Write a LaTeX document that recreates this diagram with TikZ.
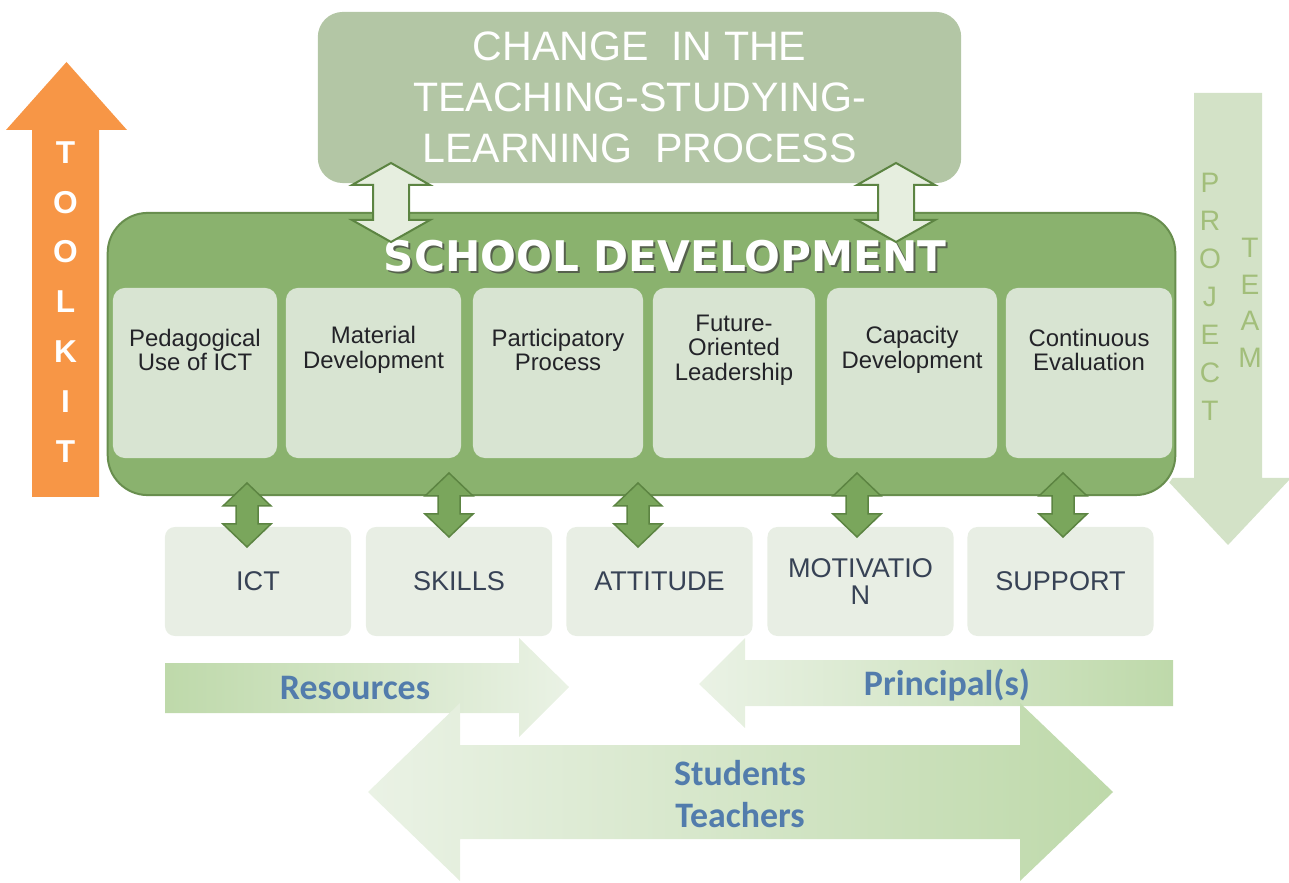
\documentclass[tikz,border=0pt]{standalone}
\usepackage{fontspec}
\setmainfont{Liberation Sans}
\newfontfamily\dejavu{DejaVu Sans}
\newfontfamily\carlito{Carlito}
\usetikzlibrary{arrows,shapes,calc,positioning}

\definecolor{toolorange}{RGB}{247,150,70}
\definecolor{projgreen}{RGB}{211,226,199}
\definecolor{projtext}{RGB}{162,190,122}
\definecolor{changefill}{RGB}{179,198,165}
\definecolor{schoolfill}{RGB}{138,178,110}
\definecolor{schoolline}{RGB}{104,142,78}
\definecolor{innerfill}{RGB}{216,228,210}
\definecolor{lowfill}{RGB}{232,238,228}
\definecolor{arrowdark}{RGB}{122,166,92}
\definecolor{arrowline}{RGB}{92,132,66}
\definecolor{arrowlight}{RGB}{230,238,223}
\definecolor{gradgreen}{RGB}{190,217,170}
\definecolor{gradlight}{RGB}{234,242,229}
\definecolor{labelblue}{RGB}{82,124,172}
\definecolor{textdark}{RGB}{35,35,40}
\definecolor{lowtext}{RGB}{55,66,85}

\tikzset{
  changebox/.style={fill=changefill, rounded corners=0.25cm, minimum width=6.43cm, minimum height=1.71cm,
    inner sep=0pt, text=white, align=center, font=\fontsize{11.7}{14.5}\selectfont},
  schoolbox/.style={fill=schoolfill, draw=schoolline, line width=0.02cm, rounded corners=0.4cm,
    minimum width=10.67cm, minimum height=2.82cm, preaction={draw=white, line width=0.07cm}},
  inbox/.style={fill=innerfill, rounded corners=0.12cm, minimum height=1.70cm, inner sep=0pt},
  intext/.style={align=center, text=textdark, inner sep=0pt, font=\fontsize{6.8}{7}\selectfont},
  lowbox/.style={fill=lowfill, rounded corners=0.1cm, minimum width=1.86cm, minimum height=1.09cm,
    inner sep=0pt, align=center, text=lowtext, font=\fontsize{7.7}{7.7}\selectfont},
  flowtext/.style={text=labelblue, align=center, font=\carlito\bfseries\fontsize{10.2}{12}\selectfont},
  sdtitle/.style={font=\dejavu\bfseries\fontsize{12}{14}\selectfont},
  bigarrow/.style={fill=arrowdark, draw=arrowline, line width=0.015cm},
  lightarrow/.style={fill=arrowlight, draw=arrowline, line width=0.02cm}
}

\newcommand{\dblarrow}[7]{%
  \draw[#7] (#1,#2) -- ({#1+#4},{#2+#6}) -- ({#1+#5},{#2+#6}) -- ({#1+#5},{#3-#6}) -- ({#1+#4},{#3-#6})
    -- (#1,#3) -- ({#1-#4},{#3-#6}) -- ({#1-#5},{#3-#6}) -- ({#1-#5},{#2+#6}) -- ({#1-#4},{#2+#6}) -- cycle;}

\begin{document}
\begin{tikzpicture}[x=0.01cm, y=-0.01cm]
	\useasboundingbox (0,0) rectangle (1289,883);

	\fill [projgreen] (1194,93) -- (1262,93) -- (1262,478) -- (1291,478) -- (1228,545) -- (1165,478) -- (1194,478) -- cycle;
	\node [text=projtext, align=center, font=\fontsize{8}{10.8}\selectfont] (project) at (1210,297) {P\\R\\O\\J\\E\\C\\T};
	\node [text=projtext, align=center, font=\fontsize{8}{10.4}\selectfont] (team) at (1250,303) {T\\E\\A\\M};

	\fill [toolorange] (32,497) -- (32,130) -- (6,130) -- (66.5,62) -- (127,130) -- (99,130) -- (99,497) -- cycle;
	\node [text=white, align=center, font=\bfseries\fontsize{9}{14.2}\selectfont] (toolkit) at (65.5,302) {T\\O\\O\\L\\K\\I\\T};

	\node [changebox] (change) at (639.5,97.5) {CHANGE\ \ IN THE\\TEACHING-STUDYING-\\LEARNING\ \ PROCESS};

	\node [schoolbox] (school) at (641.5,354) {};
	\node [sdtitle, text=black!75, opacity=0.7] at (667,258) {SCHOOL DEVELOPMENT};
	\node [sdtitle, text=white] (sdlabel) at (665,256) {SCHOOL DEVELOPMENT};

	\node [inbox, minimum width=1.64cm] (ped) at (195,373) {};
	\node [inbox, minimum width=1.75cm] (mat) at (373.5,373) {};
	\node [inbox, minimum width=1.70cm] (par) at (558,373) {};
	\node [inbox, minimum width=1.62cm] (fut) at (734,373) {};
	\node [inbox, minimum width=1.70cm] (cap) at (912,373) {};
	\node [inbox, minimum width=1.66cm] (con) at (1089,373) {};
	\node [intext] (pedtext) at (195,350) {Pedagogical\\Use of ICT};
	\node [intext] (mattext) at (373.5,350) {Material\\Development};
	\node [intext] (partext) at (558,350) {Participatory\\Process};
	\node [intext] (futtext) at (734,350) {Future-\\Oriented\\Leadership};
	\node [intext] (captext) at (912,350) {Capacity\\Development};
	\node [intext] (context) at (1089,350) {Continuous\\Evaluation};

	\dblarrow{391}{163}{242}{39}{18}{22}{lightarrow}
	\dblarrow{896}{163}{242}{39}{18}{22}{lightarrow}

	\node [lowbox] (ict) at (258,581.5) {ICT};
	\node [lowbox] (skills) at (459,581.5) {SKILLS};
	\node [lowbox] (attitude) at (659.5,581.5) {ATTITUDE};
	\node [lowbox] (motivation) at (860.5,581.5) {MOTIVATIO\\N};
	\node [lowbox] (support) at (1060.5,581.5) {SUPPORT};

	\dblarrow{247}{483}{547}{24}{11}{23}{bigarrow}
	\dblarrow{449}{473}{537}{24}{11}{23}{bigarrow}
	\dblarrow{638}{483}{547}{24}{11}{23}{bigarrow}
	\dblarrow{857}{473}{537}{24}{11}{23}{bigarrow}
	\dblarrow{1063}{473}{537}{24}{11}{23}{bigarrow}

	\shade [left color=gradgreen, right color=gradlight] (165,663) -- (519,663) -- (519,638) -- (569,687) -- (519,737) -- (519,713) -- (165,713) -- cycle;
	\node [flowtext] (resources) at (355,688) {Resources};
	\shade [left color=gradlight, right color=gradgreen] (1173,660) -- (745,660) -- (745,638) -- (699,684) -- (745,728) -- (745,706) -- (1173,706) -- cycle;
	\node [flowtext] (principals) at (947,685) {Principal(s)};
	\shade [left color=gradlight, right color=gradgreen] (460,745) -- (1020,745) -- (1020,703) -- (1113,792) -- (1020,881) -- (1020,839) -- (460,839) -- (460,881) -- (368,792) -- (460,703) -- cycle;
	\node [flowtext] (actors) at (740,794) {Students\\Teachers};
\end{tikzpicture}
\end{document}
